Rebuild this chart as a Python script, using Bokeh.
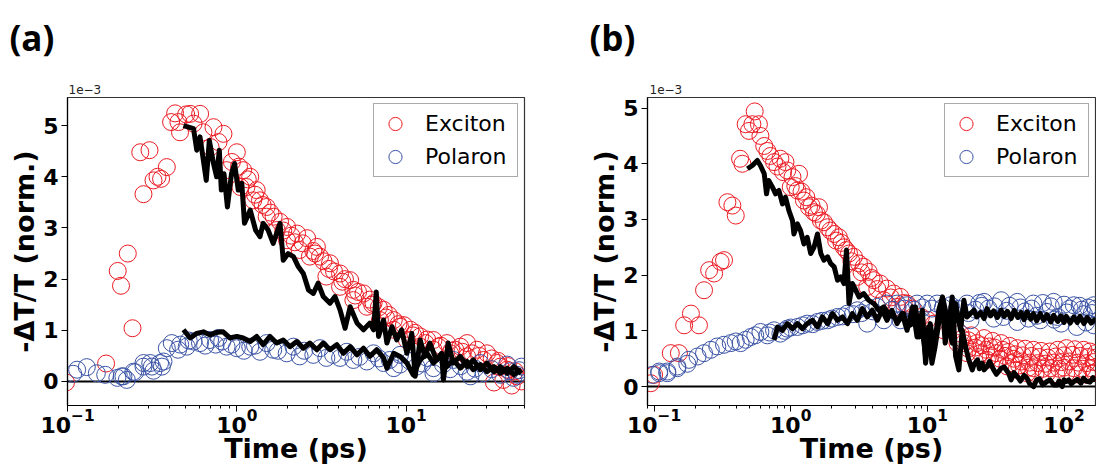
from bokeh.plotting import figure
from bokeh.models import Span, FixedTicker, Legend, LegendItem, Range1d
from bokeh.core.properties import value
from bokeh.layouts import row, column
from bokeh.embed import file_html
from bokeh.resources import INLINE

# ---------------- data (values in units of 1e-3) ----------------
# Panel (a)
a_exc_t = [0.098, 0.169, 0.198, 0.207, 0.227, 0.242, 0.269, 0.281, 0.305, 0.322, 0.340, 0.357, 0.386,
           0.409, 0.432, 0.452, 0.462, 0.502, 0.530, 0.555, 0.607, 0.635, 0.700, 0.728, 0.780, 0.834,
           0.870, 0.935, 1.00, 1.03, 1.05, 1.09, 1.14, 1.16, 1.20, 1.25, 1.28, 1.31, 1.37, 1.42, 1.50,
           1.50, 1.58, 1.65, 1.72, 1.80, 1.88, 1.98, 1.98, 2.10, 2.27, 2.35, 2.45, 2.60, 2.70, 2.83,
           2.97, 3.10, 3.25, 3.38, 3.55, 3.75, 4.07, 4.07, 4.35, 4.67, 4.88, 4.88, 5.20, 5.60, 5.86,
           6.10, 6.42, 6.90, 7.00, 7.36, 7.90, 8.45, 8.45, 9.20, 9.70, 10.1, 10.6, 11.3, 12.1, 12.1,
           13.3, 14.5, 14.5, 16.0, 17.4, 18.2, 19.5, 20.9, 22.9, 22.9, 24.5, 26.2, 28.7, 30.0, 32.0,
           33.0, 34.4, 36.0, 37.5, 39.5, 40.0, 42.0, 44.0, 45.2, 48.0,
           2.2, 2.9, 3.5, 4.2, 5.0, 6.3, 7.6, 9.0, 11.0, 13.0, 15.5, 18.5, 21.5, 27.0, 35.0]
a_exc_v = [-0.02, 0.35, 2.16, 1.87, 2.50, 1.04, 4.48, 3.66, 4.52, 3.93, 4.00, 3.96, 4.19,
           5.07, 5.24, 5.07, 4.87, 5.22, 5.23, 5.04, 5.23, 4.87, 4.58, 4.97, 4.68, 4.84,
           4.13, 4.29, 4.48, 4.20, 3.80, 4.13, 3.80, 3.95, 4.00, 3.54, 3.65, 3.74, 3.54, 3.45, 3.41,
           3.22, 3.30, 3.22, 2.96, 3.12, 2.95, 3.02, 2.76, 2.85, 2.89, 2.57, 2.70, 2.80, 2.44, 2.55,
           2.63, 2.44, 2.35, 2.05, 2.31, 2.15, 2.11, 1.85, 2.00, 1.98, 1.79, 1.59, 1.75, 1.72, 1.46,
           1.60, 1.53, 1.45, 1.20, 1.40, 1.30, 1.20, 1.01, 1.07, 1.10, 0.81, 1.01, 0.95, 0.88, 0.68,
           0.82, 0.81, 0.62, 0.70, 0.75, 0.55, 0.62, 0.68, 0.75, 0.49, 0.55, 0.62, 0.42, 0.55, 0.45,
           -0.02, 0.36, 0.29, 0.03, 0.23, 0.30, -0.08, 0.20, 0.10, 0.00,
           2.72, 2.50, 2.20, 1.95, 1.68, 1.50, 1.25, 1.12, 0.90, 0.75, 0.68, 0.60, 0.58, 0.50, 0.40]

a_pol_t = [0.108, 0.114, 0.130, 0.149, 0.167, 0.197, 0.209, 0.214, 0.224, 0.245, 0.251, 0.281, 0.281,
           0.308, 0.315, 0.322, 0.352, 0.361, 0.369, 0.386, 0.413, 0.450, 0.463, 0.506, 0.520, 0.555,
           0.606, 0.650, 0.695, 0.750, 0.780, 0.820, 0.870, 0.930, 1.00, 1.10, 1.20, 1.28, 1.37, 1.50,
           1.64, 1.75, 1.97, 2.16, 2.35, 2.50, 2.83, 3.10, 3.38, 3.70, 4.07, 4.46, 4.88, 5.30, 5.86,
           6.42, 6.90, 7.36, 8.00, 8.45, 9.20, 9.20, 10.5, 11.5, 12.5, 13.3, 14.5, 14.5, 16.5, 18.2,
           19.0, 21.0, 22.9, 24.0, 25.5, 27.4, 28.7, 32.0, 36.0, 39.5, 41.0, 43.0, 45.2, 46.5, 48.0]
a_pol_v = [0.15, 0.23, 0.28, 0.16, 0.13, 0.07, 0.10, 0.10, 0.03, 0.19, 0.18, 0.29, 0.36,
           0.36, 0.29, 0.21, 0.36, 0.29, 0.39, 0.65, 0.75, 0.62, 0.72, 0.68, 0.80, 0.78,
           0.75, 0.70, 0.81, 0.72, 0.85, 0.78, 0.68, 0.72, 0.65, 0.60, 0.68, 0.70, 0.58, 0.75,
           0.62, 0.60, 0.55, 0.68, 0.49, 0.60, 0.52, 0.65, 0.46, 0.52, 0.46, 0.58, 0.42, 0.48, 0.39,
           0.55, 0.45, 0.36, 0.42, 0.26, 0.33, 0.52, 0.40, 0.29, 0.35, 0.46, 0.26, 0.16, 0.33, 0.24,
           0.42, 0.30, 0.19, 0.10, 0.25, 0.36, 0.16, 0.24, 0.13, 0.33, 0.20, 0.07, 0.13, 0.22, 0.29]

a_trace_exc_t = [0.484, 0.518, 0.555, 0.58, 0.606, 0.66, 0.688, 0.728, 0.76, 0.788, 0.81, 0.84, 0.88,
                 0.93, 0.97, 1.02, 1.07, 1.11, 1.2, 1.29, 1.37, 1.43, 1.53, 1.64, 1.8, 1.88, 2.01,
                 2.16, 2.31, 2.47, 2.65, 2.83, 3.02, 3.24, 3.55, 3.8, 4.07, 4.36, 4.67, 5.13, 5.6,
                 6.1, 6.42, 6.66, 6.87, 7.36, 7.7, 8.25, 8.8, 9.4, 10.1, 10.8, 11.3, 12.1, 12.9,
                 13.8, 15.1, 16.2, 16.6, 17.7, 19, 20.9, 22.9, 24.9, 27.4, 30, 33, 36, 39.5, 43.3, 48]
a_trace_exc_v = [5.0, 4.97, 4.94, 4.52, 4.78, 3.93, 4.71, 4.26, 4.0, 4.52, 3.74, 4.06, 3.41,
                 4.06, 4.26, 3.74, 3.87, 3.09, 3.35, 2.96, 2.83, 3.09, 2.96, 2.70, 3.09, 2.37, 2.50,
                 2.44, 2.24, 2.11, 1.79, 1.72, 1.92, 1.66, 1.53, 1.66, 1.40, 1.04, 1.46, 1.14, 1.01,
                 1.14, 1.01, 1.75, 0.88, 1.20, 0.75, 1.07, 0.81, 1.01, 0.55, 0.94, 0.10, 0.81, 0.49,
                 0.75, 0.42, 0.55, 0.03, 0.75, 0.36, 0.49, 0.29, 0.42, 0.23, 0.36, 0.19, 0.29, 0.16, 0.29, 0.16]

a_trace_pol_t = [0.484, 0.53, 0.58, 0.635, 0.695, 0.76, 0.83, 0.91, 1.0, 1.09, 1.2, 1.31, 1.43, 1.57,
                 1.72, 1.88, 2.06, 2.26, 2.47, 2.7, 2.97, 3.24, 3.55, 3.89, 4.26, 4.67, 5.13, 5.6, 6.1,
                 6.7, 7.36, 7.7, 8.45, 9.2, 10.1, 11, 12.1, 13.3, 14.5, 15.9, 17.4, 19, 20.9, 22.9,
                 24.9, 27.4, 30, 33, 36, 39.5, 43.3, 48]
a_trace_pol_v = [1.01, 0.85, 0.94, 0.97, 0.91, 0.96, 0.97, 0.85, 0.88, 0.85, 0.78, 0.88, 0.72, 0.88,
                 0.75, 0.81, 0.68, 0.78, 0.65, 0.75, 0.62, 0.75, 0.62, 0.72, 0.55, 0.68, 0.52, 0.65, 0.49,
                 0.62, 0.46, 0.26, 0.55, 0.49, 0.36, 0.13, 0.42, 0.55, 0.36, 0.49, 0.29, 0.42, 0.26, 0.39,
                 0.23, 0.33, 0.19, 0.29, 0.16, 0.26, 0.13, 0.23]

# Panel (b)
b_exc_t = [0.0946, 0.1, 0.1325, 0.152, 0.166, 0.186, 0.213, 0.232, 0.253, 0.275, 0.307, 0.325, 0.344,
           0.374, 0.396, 0.426, 0.443, 0.468, 0.495, 0.524, 0.545, 0.585, 0.60, 0.64, 0.675, 0.71,
           0.755, 0.80, 0.84, 0.88, 0.915, 0.943, 1.0, 1.03, 1.08, 1.12, 1.15, 1.2, 1.25, 1.3, 1.36,
           1.42, 1.48, 1.55, 1.61, 1.66, 1.75, 1.86, 1.95, 2.08, 2.15, 2.25, 2.35, 2.45, 2.55, 2.67,
           2.78, 2.9, 3.07, 3.16, 3.3, 3.42, 3.63, 3.72, 3.9, 4.06, 4.3, 4.52, 4.8, 5.06, 5.4, 5.67,
           6.0, 6.35, 6.7, 7.1, 7.8, 8.97, 10.0, 11.2, 13.2, 16.6,
           17.5, 21, 26, 30, 34.7, 40, 45.5, 52, 59.7, 68, 78.6, 90, 104, 120, 139, 155, 171,
           18.5, 22.5, 27, 32, 37, 43, 49, 56, 64, 73, 84, 96, 110, 127, 146, 165,
           19.5, 23.5, 27.3, 32.5, 38.5, 45, 53.6, 62, 75, 88, 104, 125, 148, 168,
           18, 20, 23, 25, 28.5, 31, 35.5, 39, 44, 50, 58, 66, 76, 87, 100, 115, 132, 150, 170,
           20, 24.5, 29, 34, 41, 47, 55, 60, 70, 80, 92, 100, 118, 136, 158]
b_exc_v = [0.06, 0.21, 0.60, 0.60, 1.10, 1.31, 1.10, 1.73, 2.09, 2.03, 2.24, 2.27, 3.31,
           3.25, 3.07, 4.09, 4.00, 4.71, 4.59, 4.71, 4.94, 4.71, 4.50, 4.32, 4.23, 4.14,
           4.03, 3.95, 4.09, 3.85, 4.03, 3.88, 3.58, 3.76, 3.60, 3.52, 3.82, 3.50, 3.34, 3.40, 3.22,
           3.25, 3.13, 3.10, 3.22, 2.98, 2.95, 2.86, 2.80, 2.74, 2.62, 2.68, 2.58, 2.50, 2.45, 2.39,
           2.25, 2.33, 1.97, 2.21, 2.05, 2.15, 1.79, 2.06, 1.95, 1.91, 1.75, 1.85, 1.55, 1.76, 1.60, 1.67,
           1.43, 1.61, 1.50, 1.49, 1.40, 1.25, 1.20, 1.13, 1.01, 0.78,
           0.95, 0.92, 0.87, 0.82, 0.78, 0.73, 0.69, 0.68, 0.66, 0.64, 0.63, 0.66, 0.69, 0.67, 0.66, 0.63, 0.60,
           0.78, 0.70, 0.66, 0.60, 0.55, 0.50, 0.45, 0.43, 0.42, 0.41, 0.43, 0.44, 0.45, 0.43, 0.42, 0.44,
           0.60, 0.53, 0.48, 0.42, 0.36, 0.30, 0.24, 0.24, 0.24, 0.22, 0.24, 0.22, 0.21, 0.25,
           0.86, 0.83, 0.78, 0.74, 0.72, 0.70, 0.66, 0.62, 0.58, 0.56, 0.55, 0.53, 0.52, 0.54, 0.56, 0.57, 0.55, 0.53, 0.52,
           0.68, 0.60, 0.55, 0.50, 0.42, 0.38, 0.34, 0.33, 0.32, 0.33, 0.32, 0.34, 0.33, 0.32, 0.33]

b_pol_t = [0.097, 0.109, 0.109, 0.125, 0.125, 0.148, 0.148, 0.175, 0.18, 0.208, 0.232, 0.26, 0.29,
           0.325, 0.364, 0.396, 0.43, 0.468, 0.51, 0.55, 0.60, 0.675, 0.70, 0.755, 0.84, 0.90, 0.943,
           1.0, 1.12, 1.22, 1.32, 1.45, 1.57, 1.7, 1.86, 2.0, 2.2, 2.4, 2.6, 2.85, 3.07, 3.3, 3.63,
           3.63, 4.0, 4.3, 4.8, 5.06, 5.5, 6.0, 6.35, 6.8, 7.1, 8.0, 8.4, 9.2, 9.97, 10.8, 11.8,
           13.0, 14.8, 16.5, 19.5, 20.7, 22.5, 24, 26, 28, 30.6, 34.7, 36, 38, 45.5, 45.5, 52, 55,
           59.7, 67, 70, 75, 84, 85, 95.3, 100, 105, 118, 124, 130, 140, 145, 150, 165, 165,
           20, 25, 31, 40, 48, 58, 63, 80, 90, 110, 135, 160, 170]
b_pol_v = [0.21, 0.24, 0.27, 0.27, 0.24, 0.33, 0.36, 0.41, 0.48, 0.54, 0.60, 0.66, 0.72,
           0.75, 0.78, 0.81, 0.78, 0.84, 0.89, 0.92, 0.98, 0.92, 0.97, 1.01, 0.95, 1.00, 1.04,
           1.06, 1.07, 1.10, 1.13, 1.12, 1.16, 1.18, 1.19, 1.22, 1.25, 1.26, 1.31, 1.30, 1.37, 1.32, 1.40,
           1.13, 1.35, 1.43, 1.19, 1.49, 1.38, 1.49, 1.19, 1.40, 1.46, 1.38, 1.49, 1.42, 1.49, 1.40, 1.49,
           1.42, 1.46, 1.40, 1.49, 1.19, 1.38, 1.50, 1.52, 1.40, 1.22, 1.55, 1.25, 1.36, 1.52, 1.16, 1.35, 1.22,
           1.49, 1.19, 1.50, 1.34, 1.52, 1.20, 1.13, 1.47, 1.33, 1.46, 1.07, 1.45, 1.30, 1.15, 1.42, 1.46, 1.10,
           1.32, 1.45, 1.44, 1.45, 1.42, 1.40, 1.27, 1.44, 1.25, 1.40, 1.38, 1.32, 1.40]

b_trace_exc_t = [0.482, 0.524, 0.57, 0.6, 0.64, 0.665, 0.69, 0.735, 0.775, 0.82, 0.87, 0.915, 0.97,
                 1.03, 1.055, 1.12, 1.18, 1.25, 1.32, 1.4, 1.48, 1.57, 1.66, 1.75, 1.86, 1.96, 2.08,
                 2.2, 2.32, 2.45, 2.56, 2.67, 2.83, 2.99, 3.16, 3.42, 3.72, 4.06, 4.4, 4.8, 5.2, 5.67,
                 6.2, 6.7, 7.1, 7.8, 8.2, 8.7, 9.2, 9.7, 10.2, 10.8, 11.4, 12.1, 12.9, 13.5, 14.4,
                 15.2, 16.1, 17, 18, 19, 20.1, 21.3, 22, 23.3, 24, 25.2, 26, 27.3, 28.5, 30.6, 32,
                 34.7, 36.5, 39.3, 41, 43, 45.5, 48, 51, 53.6, 56, 60, 63, 66, 70, 75, 79, 84, 89,
                 92, 97, 100, 104, 108, 113, 118, 125, 133, 139, 145, 155, 163, 171]
b_trace_exc_v = [3.91, 3.97, 4.06, 3.97, 3.82, 3.46, 3.70, 3.58, 3.46, 3.52, 3.28, 3.40, 3.16,
                 2.98, 2.74, 2.92, 2.80, 2.56, 2.68, 2.39, 2.50, 2.74, 2.39, 2.27, 2.33, 2.21, 2.15,
                 1.91, 1.97, 1.85, 2.45, 1.49, 1.85, 1.73, 1.61, 1.67, 1.55, 1.49, 1.37, 1.43, 1.31, 1.25,
                 1.19, 1.31, 1.07, 1.13, 1.43, 0.89, 1.01, 0.54, 1.07, 0.42, 0.72, 1.13, 1.49, 0.78, 1.13,
                 1.61, 0.54, 0.30, 1.01, 0.72, 0.48, 0.30, 0.40, 0.48, 0.32, 0.42, 0.30, 0.36, 0.45, 0.30, 0.22,
                 0.33, 0.35, 0.24, 0.12, 0.25, 0.18, 0.10, 0.20, 0.15, 0.05, 0.00, 0.12, 0.14, 0.03, 0.09, 0.12, 0.03, 0.03,
                 0.10, 0.00, 0.12, 0.09, 0.12, 0.05, 0.09, 0.13, 0.06, 0.15, 0.10, 0.08, 0.16, 0.10]

b_trace_pol_t = [0.755, 0.8, 0.87, 0.943, 1.03, 1.12, 1.22, 1.32, 1.44, 1.57, 1.71, 1.86, 2.02, 2.2,
                 2.39, 2.6, 2.83, 3.07, 3.34, 3.63, 3.95, 4.3, 4.67, 5.06, 5.5, 6.0, 6.53, 7.1, 7.8,
                 8.4, 9.2, 9.7, 10.5, 11.2, 12.1, 12.9, 13.9, 15.2, 16.1, 17.5, 18.5, 19.5, 21.9, 23,
                 24.5, 26, 27.3, 29, 30.6, 32.5, 34.7, 36.5, 38.5, 41, 43.2, 46, 48.5, 51, 53.6, 57,
                 59.7, 63, 67, 71, 75, 80, 84, 90, 95, 100, 104, 111, 118, 125, 131, 140, 148, 158, 171]
b_trace_pol_v = [0.84, 1.07, 1.01, 1.13, 1.04, 1.13, 1.04, 1.13, 1.19, 1.07, 1.25, 1.13, 1.31, 1.19,
                 1.25, 1.13, 1.31, 1.19, 1.40, 1.25, 1.37, 1.19, 1.37, 1.19, 1.37, 1.13, 1.31, 1.01, 1.43,
                 0.89, 1.37, 0.42, 1.13, 0.66, 1.37, 1.61, 1.25, 0.78, 1.49, 1.01, 1.55, 1.25, 1.37, 1.25,
                 1.33, 1.22, 1.40, 1.27, 1.36, 1.24, 1.37, 1.26, 1.35, 1.22, 1.37, 1.24, 1.33, 1.20, 1.34, 1.21,
                 1.31, 1.18, 1.31, 1.19, 1.29, 1.16, 1.28, 1.17, 1.27, 1.15, 1.26, 1.14, 1.25, 1.15, 1.26, 1.13, 1.24, 1.14, 1.22]

y_ticks = [0, 1, 2, 3, 4, 5]
a_x_ticks = [0.1, 1, 10]
b_x_ticks = [0.1, 1, 10, 100]
legend_labels = ["Exciton", "Polaron"]
panel_tags = ["(a)", "(b)"]
offset_text = "1e\u22123"

RED = "#ec1c24"
BLUE = "#3b54a6"
FONT = "DejaVu Sans"
TOTAL_H = 466
HEADER_H = 96          # strip holding the panel tag and the 1e-3 offset text
PLOT_H = TOTAL_H - HEADER_H


def make_header(width, tag, offset_x):
    """Thin strip above a panel; its ranges are in pixels so the texts sit where the reference has them."""
    h = figure(width=width, height=HEADER_H, output_backend="svg", toolbar_location=None,
               x_axis_location=None, y_axis_location=None,
               x_range=Range1d(0, width), y_range=Range1d(HEADER_H, 0),
               min_border=0, min_border_left=0, min_border_right=0,
               min_border_top=0, min_border_bottom=0)
    h.outline_line_color = None
    h.grid.visible = False
    h.background_fill_color = "white"
    h.border_fill_color = "white"
    h.text(x=[9], y=[36.5], text=[tag], text_font=value("Open Sans"), text_font_style="bold",
           text_font_size="35px", text_color="black", text_baseline="middle", text_align="left")
    h.text(x=[offset_x], y=[88.5], text=[offset_text], text_font=value(FONT),
           text_font_size="12px", text_color="#222222", text_baseline="middle", text_align="left")
    return h


def make_panel(width, border_right, x_range, y_range, x_ticks,
               exc_t, exc_v, pol_t, pol_v, te_t, te_v, tp_t, tp_v):
    p = figure(width=width, height=PLOT_H, x_axis_type="log", x_range=x_range, y_range=y_range,
               output_backend="svg", toolbar_location=None,
               min_border_left=67, min_border_right=border_right,
               min_border_top=1, min_border_bottom=60)
    p.background_fill_color = "white"
    p.border_fill_color = "white"
    p.outline_line_color = "#333333"
    p.outline_line_width = 1.2
    p.xgrid.visible = False
    p.ygrid.visible = False

    zero = Span(location=0, dimension="width", line_color="black", line_width=2, level="underlay")
    p.add_layout(zero)

    r_exc = p.scatter(exc_t, exc_v, marker="circle", size=17, fill_color=None,
                      line_color=RED, line_width=1)
    r_pol = p.scatter(pol_t, pol_v, marker="circle", size=17, fill_color=None,
                      line_color=BLUE, line_width=1)
    p.line(te_t, te_v, line_color="black", line_width=5, line_join="round")
    p.line(tp_t, tp_v, line_color="black", line_width=5, line_join="round")

    minor = [m * 10.0 ** e for e in range(-2, 3) for m in range(2, 10)]
    p.xaxis.ticker = FixedTicker(ticks=x_ticks, minor_ticks=minor)
    p.yaxis.ticker = FixedTicker(ticks=y_ticks)

    for ax in (p.xaxis[0], p.yaxis[0]):
        ax.major_label_text_font = FONT
        ax.major_label_text_font_style = "bold"
        ax.major_label_text_font_size = "22px"
        ax.major_label_text_color = "black"
        ax.axis_label_text_font = FONT
        ax.axis_label_text_font_style = "bold"
        ax.axis_label_text_font_size = "27px"
        ax.axis_label_text_color = "black"
        ax.axis_line_color = "black"
        ax.axis_line_width = 1.2
        ax.major_tick_line_color = "black"
        ax.major_tick_out = 6
        ax.major_tick_in = 0
        ax.minor_tick_out = 3
        ax.minor_tick_in = 0
        ax.major_label_standoff = 3
    p.yaxis.minor_tick_line_color = None
    p.xaxis.minor_tick_line_color = "black"
    p.xaxis.axis_label = "Time (ps)"
    p.yaxis.axis_label = "-\u0394T/T (norm.)"
    p.xaxis.major_label_standoff = -3
    p.xaxis.axis_label_standoff = -3
    p.yaxis.axis_label_standoff = 0

    legend = Legend(items=[LegendItem(label=legend_labels[0], renderers=[r_exc]),
                           LegendItem(label=legend_labels[1], renderers=[r_pol])],
                    location="top_right")
    legend.margin = 6
    legend.padding = 3
    legend.spacing = 0
    legend.glyph_width = 36
    legend.glyph_height = 33
    legend.label_height = 33
    legend.label_width = 89
    legend.label_standoff = 12
    legend.label_text_font = FONT
    legend.label_text_font_size = "22px"
    legend.label_text_color = "black"
    legend.border_line_color = "#555555"
    legend.border_line_width = 1
    legend.background_fill_color = "white"
    legend.background_fill_alpha = 1.0
    p.add_layout(legend)
    return p


ha = make_header(580, panel_tags[0], 68)
hb = make_header(516, panel_tags[1], 69)
pa = make_panel(580, 56, (0.1, 50), (-0.47, 5.55), a_x_ticks,
                a_exc_t, a_exc_v, a_pol_t, a_pol_v,
                a_trace_exc_t, a_trace_exc_v, a_trace_pol_t, a_trace_pol_v)
pb = make_panel(516, 1, (0.0895, 170), (-0.34, 5.19), b_x_ticks,
                b_exc_t, b_exc_v, b_pol_t, b_pol_v,
                b_trace_exc_t, b_trace_exc_v, b_trace_pol_t, b_trace_pol_v)

layout = column(row(ha, hb), row(pa, pb))
open("out.html", "w").write(file_html(layout, INLINE))
